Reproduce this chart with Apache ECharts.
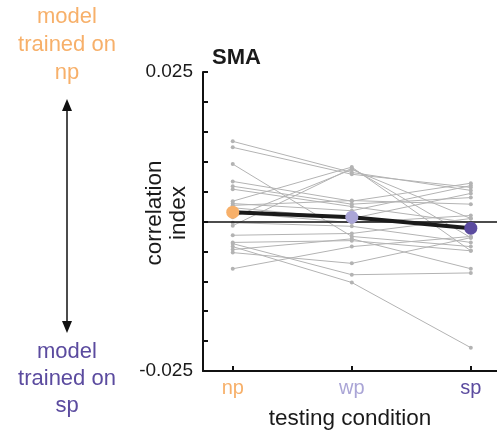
<!DOCTYPE html>
<html>
<head>
<meta charset="utf-8">
<script src="https://cdn.jsdelivr.net/npm/echarts@6/dist/echarts.min.js"></script>
<style>html,body{margin:0;padding:0;background:#fff;}#c{width:497px;height:430px;}</style>
</head>
<body>
<div id="c"></div>
<script>
var categories = ['np', 'wp', 'sp'];
var catColors = ['#f7b06a', '#aaa5d6', '#5b4b9f'];
var yTickLabels = [-0.025, 0.025];
// individual subjects: correlation index per testing condition
var npVals = [0.0134, 0.0124, 0.0096, 0.0067, 0.0059, 0.0054, 0.0034, 0.0030, 0.0027, 0.0023, 0.0015, 0.0007, -0.0002, -0.0007, -0.0023, -0.0035, -0.0042, -0.0047, -0.0052, -0.0079, -0.0037];
var wpVals = [0.0082, 0.0079, -0.0025, 0.0034, 0.0029, 0.0025, 0.0091, 0.0018, 0.0035, 0.0005, -0.0002, 0.0087, -0.0008, 0.0089, -0.0020, -0.0032, -0.0102, -0.0029, -0.0070, -0.0042, -0.0089];
var spVals = [0.0052, 0.0057, -0.0042, 0.0064, 0.0040, -0.0002, -0.0049, 0.0060, 0.0029, 0.0047, 0.0010, 0.0005, -0.0035, -0.0027, 0.0005, -0.0049, -0.0211, -0.0079, -0.0027, -0.0025, -0.0086];
var meanVals = [0.00156, 0.00072, -0.00112];

var FONT = 'Liberation Sans, Arial, Helvetica, sans-serif';
var series = [];
for (var i = 0; i < npVals.length; i++) {
  series.push({
    type: 'line',
    data: [[0, npVals[i]], [1, wpVals[i]], [2, spVals[i]]],
    symbol: 'circle', symbolSize: 4,
    lineStyle: {color: '#b3b3b3', width: 1},
    itemStyle: {color: '#b3b3b3'},
    silent: true, z: 2,
    markLine: i === 0 ? {
      silent: true, symbol: 'none', label: {show: false},
      lineStyle: {color: '#111', width: 1.6, type: 'solid'},
      data: [{yAxis: 0}]
    } : undefined
  });
}
series.push({
  type: 'line',
  data: meanVals.map(function (v, k) {
    return {value: [k, v], itemStyle: {color: catColors[k]}};
  }),
  symbol: 'circle', symbolSize: 13,
  lineStyle: {color: '#1a1a1a', width: 4},
  z: 5, silent: true
});

var richLab = {};
categories.forEach(function (c, k) { richLab['c' + k] = {color: catColors[k], fontSize: 20, fontFamily: FONT}; });

var chart = echarts.init(document.getElementById('c'));
chart.setOption({
  animation: false,
  grid: {left: 203, right: 0, top: 72, bottom: 59, containLabel: false, outerBoundsMode: 'none'},
  title: {
    text: 'SMA', left: 207, top: 42,
    textStyle: {fontSize: 22, fontWeight: 'bold', color: '#1a1a1a', fontFamily: FONT}
  },
  xAxis: {
    type: 'value', min: -0.25, max: 2.22,
    name: 'testing condition', nameLocation: 'middle', nameGap: 36, nameMoveOverlap: false,
    nameTextStyle: {fontSize: 22.5, color: '#1a1a1a', fontFamily: FONT},
    axisLine: {show: true, onZero: false, lineStyle: {color: '#111', width: 2}},
    axisTick: {show: true, inside: true, length: 5, customValues: [0, 1, 2], lineStyle: {color: '#111', width: 2}},
    axisLabel: {
      customValues: [0, 1, 2], margin: 7, rich: richLab,
      formatter: function (v) { var k = Math.round(v); return '{c' + k + '|' + categories[k] + '}'; }
    },
    splitLine: {show: false}
  },
  yAxis: {
    type: 'value', min: -0.025, max: 0.025, interval: 0.005,
    axisLine: {show: true, onZero: false, lineStyle: {color: '#111', width: 2}},
    axisTick: {show: true, inside: true, length: 5, lineStyle: {color: '#111', width: 2}},
    axisLabel: {
      margin: 10, fontSize: 19, color: '#1a1a1a', fontFamily: FONT, showMinLabel: true, showMaxLabel: true,
      formatter: function (v) {
        for (var j = 0; j < yTickLabels.length; j++) {
          if (Math.abs(v - yTickLabels[j]) < 1e-9) return String(yTickLabels[j]);
        }
        return '';
      }
    },
    splitLine: {show: false}
  },
  graphic: [
    {type: 'text', x: 167, y: 213, rotation: Math.PI / 2, style: {text: 'correlation\nindex', x: 0, y: 0, textAlign: 'center', textVerticalAlign: 'middle', fill: '#1a1a1a', font: '22.5px ' + FONT, lineHeight: 24}},
    {type: 'text', x: 67, y: 45, style: {text: 'model\ntrained on\nnp', x: 0, y: 0, textAlign: 'center', textVerticalAlign: 'middle', fill: '#f7b06a', font: '22px ' + FONT, lineHeight: 28}},
    {type: 'text', x: 67, y: 379, style: {text: 'model\ntrained on\nsp', x: 0, y: 0, textAlign: 'center', textVerticalAlign: 'middle', fill: '#5b4b9f', font: '22px ' + FONT, lineHeight: 27}},
    {type: 'line', shape: {x1: 67, y1: 108, x2: 67, y2: 324}, style: {stroke: '#111', lineWidth: 1.5}},
    {type: 'polygon', shape: {points: [[67, 99], [62, 111], [72, 111]]}, style: {fill: '#111'}},
    {type: 'polygon', shape: {points: [[67, 333], [62, 321], [72, 321]]}, style: {fill: '#111'}}
  ],
  series: series
});
</script>
</body>
</html>
